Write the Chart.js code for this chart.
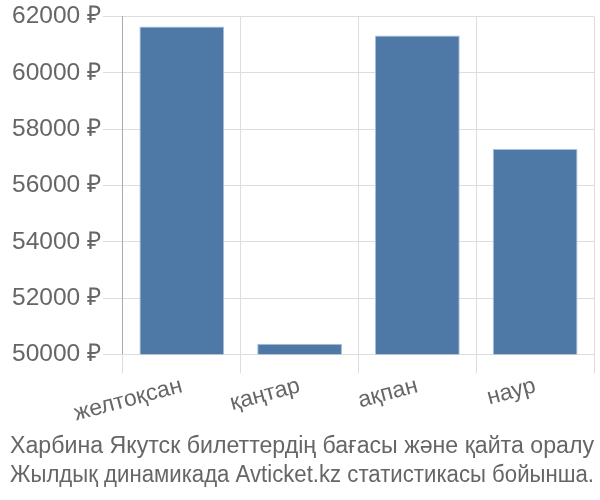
<!DOCTYPE html>
<html lang="kk">
  <head>
    <meta charset="UTF-8" />
    <title>Харбина Якутск</title>
    <style>
      html, body { margin: 0; padding: 0; background: #fff; }
      .chartBox { width: 600px; height: 500px; }
    </style>
  </head>
  <body>
    <div class="chartBox">
      <canvas id="myChart" width="600" height="500"></canvas>
    </div>
    <script src="https://cdn.jsdelivr.net/npm/chart.js"></script>
    <script>
      const months = ["желтоқсан", "қаңтар", "ақпан", "наур"];
      const prices = [61650, 50370, 61330, 57300];
      const titleLines = [
        "Харбина Якутск билеттердің бағасы және қайта оралу",
        "Жылдық динамикада Avticket.kz статистикасы бойынша.",
      ];

      const ctx = document.getElementById("myChart").getContext("2d");
      const myChart = new Chart(ctx, {
        type: "bar",
        data: {
          labels: months,
          datasets: [
            {
              data: prices,
              backgroundColor: "#4e79a7",
              borderColor: "#a9c1e0",
              borderWidth: 1,
              barPercentage: 0.72,
              categoryPercentage: 1,
            },
          ],
        },
        options: {
          responsive: false,
          animation: false,
          layout: { padding: { left: 10, right: 6, top: 2, bottom: 6 } },
          plugins: {
            legend: { display: false },
            tooltip: { enabled: false },
            title: {
              display: true,
              position: "bottom",
              text: titleLines,
              color: "#666",
              font: { family: "Liberation Sans", size: 23.5, weight: "normal", lineHeight: 1.22 },
              padding: { top: 6, bottom: 4 },
            },
          },
          scales: {
            y: {
              min: 50000,
              max: 62000,
              ticks: {
                stepSize: 2000,
                color: "#666",
                padding: 2,
                font: { family: "Liberation Sans", size: 24.5 },
                callback: (v) => v + " ₽",
              },
              grid: { color: "#ddd", tickLength: 20 },
              border: { color: "#aaa" },
            },
            x: {
              ticks: {
                color: "#666",
                padding: -1,
                autoSkip: false,
                font: { family: "Liberation Sans", size: 23 },
                minRotation: 15,
                maxRotation: 15,
              },
              grid: { color: "#ddd", offset: true, tickLength: 19 },
              border: { color: "#ddd" },
            },
          },
        },
      });
    </script>
  </body>
</html>
